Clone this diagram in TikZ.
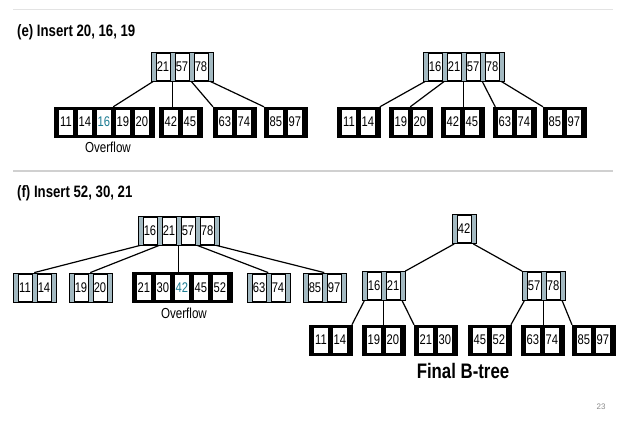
\documentclass[tikz,border=0pt]{standalone}
\usepackage{fontspec}
\setmainfont{Liberation Sans}
\newfontfamily\keyfont[FakeStretch=0.8]{Liberation Sans}
\newfontfamily\headfont[FakeStretch=0.8]{Liberation Sans}
\usetikzlibrary{positioning}
\definecolor{bt-slot}{HTML}{A3B9C1}
\definecolor{bt-mark}{HTML}{1C7C93}
\definecolor{bt-rule}{HTML}{D0D0D0}
\definecolor{bt-page}{HTML}{8A8A8A}

\def\keyw{14.5pt}
\def\slotw{4.5pt}

\tikzset{
  innerbox/.style={draw=black, line width=0.8pt, fill=bt-slot, minimum height=29pt, inner sep=0pt},
  leafbox/.style={draw=black, fill=black, minimum height=30pt, inner sep=0pt},
  innerkey/.style={draw=black, line width=0.5pt, fill=white, minimum width=\keyw, minimum height=27pt, inner sep=0pt, font=\keyfont\fontsize{14}{14}\selectfont},
  leafkey/.style={fill=white, minimum width=\keyw, minimum height=25pt, inner sep=0pt, font=\keyfont\fontsize{14}{14}\selectfont},
  link/.style={line width=1.2pt},
  stem/.style={line width=0.8pt},
  title/.style={anchor=west, inner sep=0pt, font=\headfont\bfseries\fontsize{16.5}{16.5}\selectfont},
  note/.style={inner sep=0pt, font=\keyfont\fontsize{14.5}{14.5}\selectfont}
}

% one B-tree node: name, left x, centre y, kind (inner/leaf), keys
\newcommand{\btnode}[5]{%
  \foreach \k [count=\i] in {#5} {\xdef\nkeys{\i}}%
  \node[#4box, anchor=west, minimum width={\nkeys*\keyw+(\nkeys+1)*\slotw}] (#1) at (#2,#3) {};
  \foreach \k [count=\i] in {#5} {%
    \node[#4key, anchor=west] (#1-k\i) at ([xshift={\i*\slotw+(\i-1)*\keyw}]#1.west) {\k};
  }%
  \foreach \i in {0,...,\nkeys} {%
    \coordinate (#1-s\i) at ([xshift={\i*(\slotw+\keyw)+0.5*\slotw}]#1.south west);
    \coordinate (#1-t\i) at ([xshift={\i*(\slotw+\keyw)+0.5*\slotw}]#1.north west);
  }%
}

\begin{document}
\begin{tikzpicture}[x=1pt, y=-1pt]
    \useasboundingbox (0,0) rectangle (630,421);

    % Rules
    \draw[bt-rule!60, line width=0.8pt] (13,9) -- (613,9);
    \draw[bt-rule, line width=2.2pt] (13,171) -- (613,171);

    % (e) before the split
    \node[title] (eT) at (17,32) {(e) Insert 20, 16, 19};
    \btnode{eA}{151}{66.5}{inner}{21,57,78}
    \btnode{eA1}{54}{122}{leaf}{11,14,{\color{bt-mark}16},19,20}
    \btnode{eA2}{159}{122}{leaf}{42,45}
    \btnode{eA3}{213}{122}{leaf}{63,74}
    \btnode{eA4}{264}{122}{leaf}{85,97}
    \node[note, below=5pt of eA1, xshift=4pt] (eO) {Overflow};

    \draw[link] (eA-s0) -- (eA1-t3);
    \draw[stem] (eA-s1) -- (eA-s1 |- eA2.north);
    \draw[link] (eA-s2) -- (eA3.north west);
    \draw[link] (eA-s3) -- (eA4.north west);

    % (e) after the split
    \btnode{eB}{423}{66.5}{inner}{16,21,57,78}
    \btnode{eB1}{337}{122}{leaf}{11,14}
    \btnode{eB2}{389}{122}{leaf}{19,20}
    \btnode{eB3}{441}{122}{leaf}{42,45}
    \btnode{eB4}{493}{122}{leaf}{63,74}
    \btnode{eB5}{543}{122}{leaf}{85,97}

    \draw[link] (eB-s0) -- (eB1.north east);
    \draw[link] (eB-s1) -- (eB2-t1);
    \draw[stem] (eB-s2) -- (eB-s2 |- eB3.north);
    \draw[link] (eB-s3) -- (eB4-t0);
    \draw[link] (eB-s4) -- (eB5.north west);

    % (f) before the split
    \node[title] (fT) at (17,193) {(f) Insert 52, 30, 21};
    \btnode{fA}{138}{230.5}{inner}{16,21,57,78}
    \btnode{fA1}{13}{287.5}{inner}{11,14}
    \btnode{fA2}{69}{287.5}{inner}{19,20}
    \btnode{fA3}{132}{287.5}{leaf}{21,30,{\color{bt-mark}42},45,52}
    \btnode{fA4}{247}{287.5}{inner}{63,74}
    \btnode{fA5}{303}{287.5}{inner}{85,97}
    \node[note, below=5pt of fA3, xshift=2pt] (fO) {Overflow};

    \draw[link] (fA-s0) -- (fA1-t1);
    \draw[link] (fA-s1) -- (fA2-t1);
    \draw[stem] (fA-s2) -- (fA-s2 |- fA3.north);
    \draw[link] (fA-s3) -- (fA4-t1);
    \draw[link] (fA-s4) -- (fA5-t1);

    % (f) final tree
    \btnode{fB}{452}{229}{inner}{42}
    \btnode{fC}{362}{286}{inner}{16,21}
    \btnode{fD}{522}{286}{inner}{57,78}
    \btnode{fE1}{309}{340}{leaf}{11,14}
    \btnode{fE2}{362}{340}{leaf}{19,20}
    \btnode{fE3}{414}{340}{leaf}{21,30}
    \btnode{fE4}{468}{340}{leaf}{45,52}
    \btnode{fE5}{521}{340}{leaf}{63,74}
    \btnode{fE6}{572}{340}{leaf}{85,97}
    \node[title, anchor=center, font=\headfont\bfseries\fontsize{21}{21}\selectfont] (fF) at (463,371) {Final B-tree};

    \draw[link] (fB-s0) -- (fC.north east);
    \draw[link] (fB-s1) -- (fD.north west);
    \draw[link] (fC-s0) -- (fE1.north east);
    \draw[stem] (fC-s1) -- (fC-s1 |- fE2.north);
    \draw[link] (fC-s2) -- (fE3.north west);
    \draw[link] (fD-s0) -- (fE4.north east);
    \draw[stem] (fD-s1) -- (fD-s1 |- fE5.north);
    \draw[link] (fD-s2) -- (fE6.north west);

    % Page number
    \node[bt-page, font=\fontsize{8}{8}\selectfont] (pg) at (601,407) {23};
\end{tikzpicture}
\end{document}
